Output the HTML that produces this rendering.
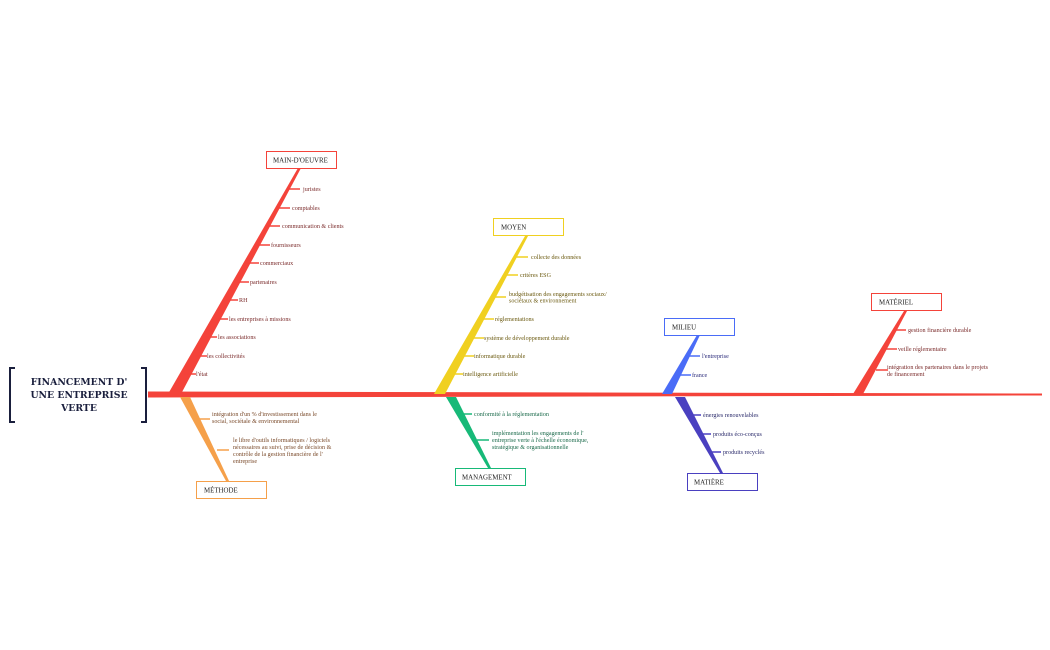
<!DOCTYPE html>
<html><head><meta charset="utf-8"><style>
html,body{margin:0;padding:0;background:#fff;}
svg{display:block}
text{font-family:"Liberation Serif",serif;font-size:6.1px;}
.b{font-size:6.9px;fill:#222;}
.t{font-family:"DejaVu Serif",serif;font-weight:bold;font-size:9.3px;fill:#1a1f3d;}
</style></head><body>
<svg width="1050" height="650" viewBox="0 0 1050 650" xmlns="http://www.w3.org/2000/svg">
<!-- spine -->
<polygon points="148,391.5 1042,393.5 1042,395.5 148,397.5" fill="#f4433a"/>
<!-- title brackets -->
<g stroke="#1a1f3d" stroke-width="2" fill="none">
<polyline points="15,368 10,368 10,422 15,422"/>
<polyline points="141,368 146,368 146,422 141,422"/>
</g>
<g text-anchor="middle">
<text class="t" x="79" y="385">FINANCEMENT D'</text>
<text class="t" x="79" y="398">UNE ENTREPRISE</text>
<text class="t" x="79" y="411">VERTE</text>
</g>

<!-- MAIN-D'OEUVRE -->
<polygon points="168,394 181,394 301,168 298,168" fill="#f4433a"/>
<rect x="266.5" y="151.5" width="70" height="17" fill="#fff" stroke="#f4433a"/>
<text class="b" x="273" y="162.5">MAIN-D'OEUVRE</text>
<g stroke="#f4433a" stroke-width="1.5">
<line x1="288" y1="189" x2="300" y2="189"/><line x1="278" y1="208" x2="290" y2="208"/>
<line x1="268" y1="226" x2="280" y2="226"/><line x1="258" y1="245" x2="270" y2="245"/>
<line x1="247" y1="263" x2="259" y2="263"/><line x1="237" y1="282" x2="249" y2="282"/>
<line x1="226" y1="300" x2="238" y2="300"/><line x1="216" y1="319" x2="228" y2="319"/>
<line x1="205" y1="337" x2="217" y2="337"/><line x1="195" y1="356" x2="207" y2="356"/>
<line x1="184" y1="374" x2="196" y2="374"/>
</g>
<g fill="#7a2a2a">
<text x="303" y="191">juristes</text><text x="292" y="210">comptables</text>
<text x="282" y="228">communication &amp; clients</text><text x="271" y="247">fournisseurs</text>
<text x="260" y="265">commerciaux</text><text x="250" y="284">partenaires</text>
<text x="239" y="302">RH</text><text x="229" y="321">les entreprises à missions</text>
<text x="218" y="339">les associations</text><text x="207" y="358">les collectivités</text>
<text x="196" y="376">l'état</text>
</g>

<!-- MOYEN -->
<polygon points="434,394 445,394 528,236 525,236" fill="#f0d020"/>
<rect x="493.5" y="218.5" width="70" height="17" fill="#fff" stroke="#f0d020"/>
<text class="b" x="501" y="229.5">MOYEN</text>
<g stroke="#f0d020" stroke-width="1.5">
<line x1="516" y1="257" x2="528" y2="257"/><line x1="506" y1="275" x2="518" y2="275"/>
<line x1="494" y1="297" x2="506" y2="297"/><line x1="482" y1="319" x2="494" y2="319"/>
<line x1="472" y1="338" x2="484" y2="338"/><line x1="462" y1="356" x2="474" y2="356"/>
<line x1="451" y1="374" x2="463" y2="374"/>
</g>
<g fill="#6b5a10">
<text x="531" y="259">collecte des données</text><text x="520" y="277">critères ESG</text>
<text x="509" y="296">budgétisation des engagements sociaux/</text><text x="509" y="302.5">sociétaux &amp; environnement</text>
<text x="495" y="321">réglementations</text><text x="484" y="340">système de développement durable</text>
<text x="474" y="358">informatique durable</text><text x="463" y="376">intelligence artificielle</text>
</g>

<!-- MILIEU -->
<polygon points="662,394 672,394 700,335 697,335" fill="#4a6cf7"/>
<rect x="664.5" y="318.5" width="70" height="17" fill="#fff" stroke="#4a6cf7"/>
<text class="b" x="672" y="329.5">MILIEU</text>
<g stroke="#4a6cf7" stroke-width="1.5">
<line x1="688" y1="356" x2="700" y2="356"/><line x1="679" y1="375" x2="691" y2="375"/>
</g>
<g fill="#2a2a7a"><text x="702" y="358">l'entreprise</text><text x="692" y="377">france</text></g>

<!-- MATERIEL -->
<polygon points="853,394 863,394 907,311 904,311" fill="#f4433a"/>
<rect x="871.5" y="293.5" width="70" height="17" fill="#fff" stroke="#f4433a"/>
<text class="b" x="879" y="304.5">MATÉRIEL</text>
<g stroke="#f4433a" stroke-width="1.5">
<line x1="894" y1="330" x2="906" y2="330"/><line x1="885" y1="349" x2="897" y2="349"/>
<line x1="876" y1="370" x2="888" y2="370"/>
</g>
<g fill="#7a2a2a">
<text x="908" y="332">gestion financière durable</text><text x="898" y="351">veille réglementaire</text>
<text x="887" y="369">intégration des partenaires dans le projets</text><text x="887" y="376">de financement</text>
</g>

<!-- METHODE -->
<polygon points="180,397 190,397 229,481 226,481" fill="#f5a04a"/>
<rect x="196.5" y="481.5" width="70" height="17" fill="#fff" stroke="#f5a04a"/>
<text class="b" x="204" y="492.5">MÉTHODE</text>
<g stroke="#f5a04a" stroke-width="1.5">
<line x1="198" y1="419" x2="210" y2="419"/><line x1="217" y1="450" x2="229" y2="450"/>
</g>
<g fill="#7a4a2a">
<text x="212" y="416">intégration d'un % d'investissement dans le</text><text x="212" y="423">social, sociétale &amp; environnemental</text>
<text x="233" y="442">le libre d'outils informatiques / logiciels</text><text x="233" y="449">nécessaires au suivi, prise de décision &amp;</text>
<text x="233" y="456">contrôle de la gestion financière de l'</text><text x="233" y="463">entreprise</text>
</g>

<!-- MANAGEMENT -->
<polygon points="446,397 456,397 491,468 488,468" fill="#17b978"/>
<rect x="455.5" y="468.5" width="70" height="17" fill="#fff" stroke="#17b978"/>
<text class="b" x="462" y="479.5">MANAGEMENT</text>
<g stroke="#17b978" stroke-width="1.5">
<line x1="460" y1="414" x2="472" y2="414"/><line x1="477" y1="440" x2="489" y2="440"/>
</g>
<g fill="#1a6a4a">
<text x="474" y="416">conformité à la réglementation</text>
<text x="492" y="435">implémentation les engagements de l'</text><text x="492" y="442">entreprise verte à l'échelle économique,</text>
<text x="492" y="449">stratégique &amp; organisationnelle</text>
</g>

<!-- MATIERE -->
<polygon points="675,397 685,397 723,473 720,473" fill="#4a40c0"/>
<rect x="687.5" y="473.5" width="70" height="17" fill="#fff" stroke="#4a40c0"/>
<text class="b" x="694" y="484.5">MATIÈRE</text>
<g stroke="#4a40c0" stroke-width="1.5">
<line x1="689" y1="415" x2="701" y2="415"/><line x1="699" y1="434" x2="711" y2="434"/>
<line x1="709" y1="452" x2="721" y2="452"/>
</g>
<g fill="#2a2a6a">
<text x="703" y="417">énergies renouvelables</text><text x="713" y="436">produits éco-conçus</text>
<text x="723" y="454">produits recyclés</text>
</g>
</svg>
</body></html>
